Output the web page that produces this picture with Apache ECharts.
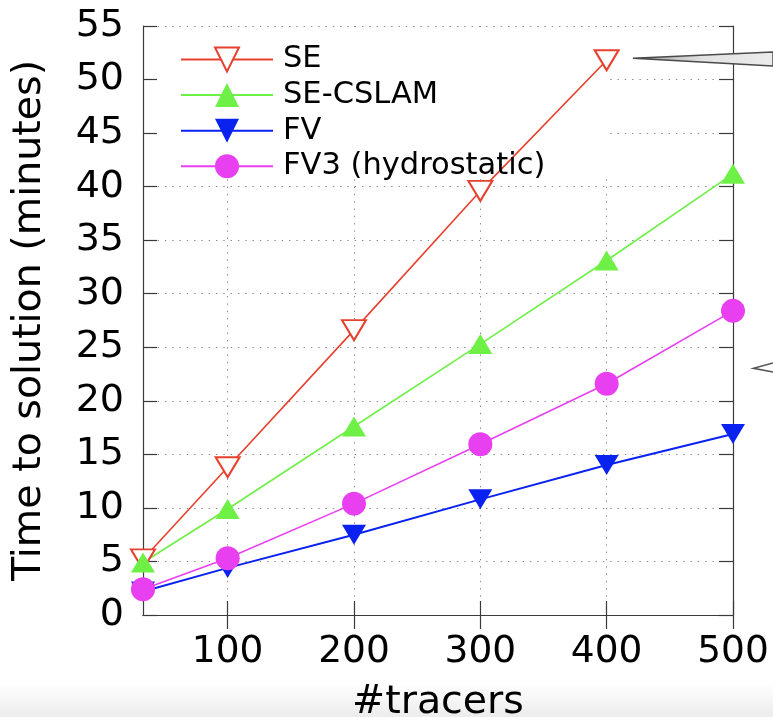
<!DOCTYPE html>
<html>
<head>
<meta charset="utf-8">
<script src="https://cdn.jsdelivr.net/npm/echarts@6/dist/echarts.min.js"></script>
<style>
  html, body { margin: 0; padding: 0; background: #ffffff; }
  #chart { width: 773px; height: 717px; }
</style>
</head>
<body>
<div id="chart"></div>
<script>
// ---- data ----
var tracers = [33, 100, 200, 300, 400, 500];
var seValues = [5.2, 13.8, 26.6, 39.6, 51.8];
var seCslamValues = [4.9, 9.9, 17.6, 25.3, 33.1, 41.2];
var fvValues = [2.2, 4.4, 7.5, 10.8, 14.0, 16.9];
var fv3Values = [2.4, 5.3, 10.4, 15.95, 21.6, 28.4];
var xTicks = [100, 200, 300, 400, 500];
var seriesNames = ['SE', 'SE-CSLAM', 'FV', 'FV3 (hydrostatic)'];
var xTitle = '#tracers';
var yTitle = 'Time to solution (minutes)';

function pairs(xs, ys) {
  var out = [];
  for (var i = 0; i < ys.length; i++) out.push([xs[i], ys[i]]);
  return out;
}

var FONT = 'DejaVu Sans';
var AXIS_COLOR = '#3a3a3a';
var xMin = tracers[0], xMax = tracers[tracers.length - 1];

var tickAxisCommon = {
  axisLine: { show: true, lineStyle: { color: AXIS_COLOR, width: 1.2 } },
  axisTick: { show: true, inside: true, length: 14, lineStyle: { color: AXIS_COLOR, width: 1.2 } },
  splitLine: { show: false }
};
var gridLineStyle = { show: true, lineStyle: { color: '#8a8a8a', width: 1, type: [1.4, 5.9] } };

var chart = echarts.init(document.getElementById('chart'), null, { renderer: 'canvas' });
chart.setOption({
  backgroundColor: '#ffffff',
  animation: false,
  grid: { left: 143, top: 26, right: 40, bottom: 102, show: false, containLabel: false, outerBoundsMode: 'none' },
  xAxis: [
    Object.assign({
      type: 'value', position: 'bottom', min: xMin, max: xMax,
      minInterval: 100, maxInterval: 100, z: 3,
      name: xTitle, nameLocation: 'middle', nameGap: 68,
      nameTextStyle: { fontFamily: FONT, fontSize: 39.5, color: '#000' },
      axisLabel: {
        show: true, margin: 18, fontFamily: FONT, fontSize: 37.5, color: '#000',
        customValues: xTicks,
        formatter: function (v) { return (v % 100 === 0) ? String(v) : ''; }
      }
    }, tickAxisCommon, { axisTick: Object.assign({}, tickAxisCommon.axisTick, { customValues: xTicks }) }),
    Object.assign({
      type: 'value', position: 'top', min: xMin, max: xMax,
      minInterval: 100, maxInterval: 100, z: 3,
      axisLabel: { show: false }
    }, tickAxisCommon, { axisTick: Object.assign({}, tickAxisCommon.axisTick, { customValues: xTicks }) }),
    {
      type: 'value', position: 'bottom', min: xMin, max: xMax,
      minInterval: 100, maxInterval: 100, z: 1,
      axisLine: { show: false }, axisTick: { show: false }, axisLabel: { show: false },
      splitLine: gridLineStyle
    }
  ],
  yAxis: [
    Object.assign({
      type: 'value', position: 'left', min: 0, max: 55, interval: 5, z: 3,
      name: yTitle, nameLocation: 'middle', nameGap: 93,
      nameTextStyle: { fontFamily: FONT, fontSize: 39.5, color: '#000' },
      axisLabel: { show: true, margin: 19, fontFamily: FONT, fontSize: 38, color: '#000' }
    }, tickAxisCommon),
    Object.assign({
      type: 'value', position: 'right', min: 0, max: 55, interval: 5, z: 3,
      axisLabel: { show: false }
    }, tickAxisCommon),
    {
      type: 'value', position: 'left', min: 0, max: 55, interval: 5, z: 1,
      axisLine: { show: false }, axisTick: { show: false }, axisLabel: { show: false },
      splitLine: gridLineStyle
    }
  ],
  legend: {
    orient: 'vertical', left: 180, top: 44, padding: 0,
    itemWidth: 92, itemHeight: 30, itemGap: 4.6, z: 6,
    data: seriesNames,
    textStyle: { fontFamily: FONT, fontSize: 30.5, color: '#000', padding: [0, 0, 0, 5], lineHeight: 30 }
  },
  graphic: [
    { type: 'rect', z: 0, silent: true, shape: { x: 0, y: 683, width: 773, height: 34 },
      style: { fill: new echarts.graphic.LinearGradient(0, 0, 0, 1, [
        { offset: 0, color: '#ffffff' }, { offset: 1, color: '#ececec' }]) } },
    { type: 'rect', z: 2, silent: true, shape: { x: 144, y: 27, width: 466, height: 152 },
      style: { fill: '#ffffff' } },
    { type: 'polygon', z: 7, silent: true,
      shape: { points: [[633, 58.3], [773, 52], [773, 66]] },
      style: { fill: new echarts.graphic.LinearGradient(0, 0, 1, 0, [
        { offset: 0, color: '#9a9a9a' }, { offset: 0.5, color: '#e2e2e2' }, { offset: 1, color: '#ececec' }]),
        stroke: '#4a4a4a', lineWidth: 1.4 } },
    { type: 'polyline', z: 7, silent: true,
      shape: { points: [[773, 363], [753.5, 368.3], [773, 372]] },
      style: { stroke: '#555555', lineWidth: 1.6, fill: null } }
  ],
  series: [
    {
      name: seriesNames[0], type: 'line', z: 5, xAxisIndex: 0, yAxisIndex: 0,
      data: pairs(tracers, seValues),
      symbol: 'emptyTriangle', symbolRotate: 180, symbolSize: [24, 20],
      itemStyle: { color: '#e8402e', borderWidth: 1.8 },
      lineStyle: { color: '#e8402e', width: 1.6 }
    },
    {
      name: seriesNames[1], type: 'line', z: 5, xAxisIndex: 0, yAxisIndex: 0,
      data: pairs(tracers, seCslamValues),
      symbol: 'triangle', symbolSize: [24, 20],
      itemStyle: { color: '#6ef046' },
      lineStyle: { color: '#6ef046', width: 1.6 }
    },
    {
      name: seriesNames[2], type: 'line', z: 5, xAxisIndex: 0, yAxisIndex: 0,
      data: pairs(tracers, fvValues),
      symbol: 'triangle', symbolRotate: 180, symbolSize: [24, 20],
      itemStyle: { color: '#0a22f0' },
      lineStyle: { color: '#0a22f0', width: 2 }
    },
    {
      name: seriesNames[3], type: 'line', z: 5, xAxisIndex: 0, yAxisIndex: 0,
      data: pairs(tracers, fv3Values),
      symbol: 'circle', symbolSize: 24,
      itemStyle: { color: '#e83ff0' },
      lineStyle: { color: '#e83ff0', width: 1.6 }
    }
  ]
});
</script>
</body>
</html>
